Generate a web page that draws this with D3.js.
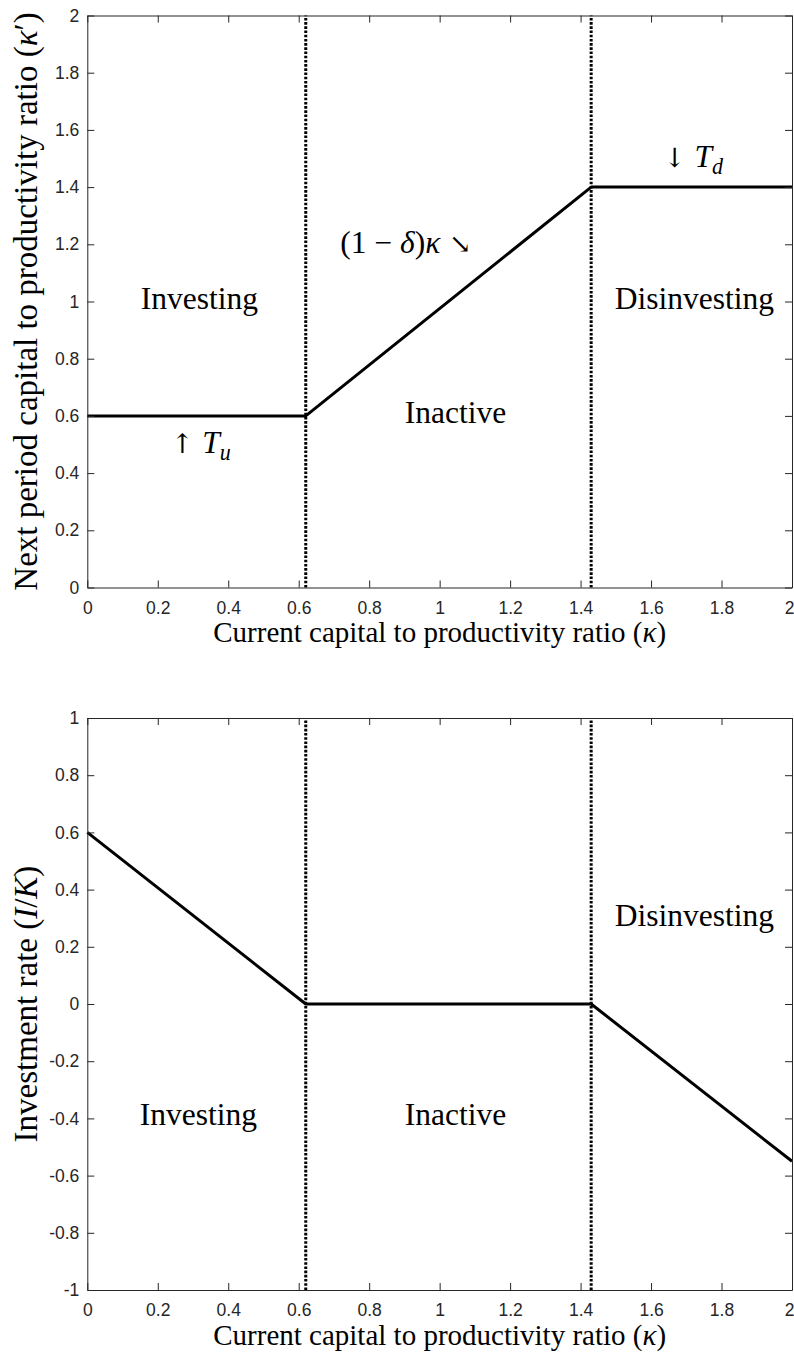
<!DOCTYPE html>
<html>
<head>
<meta charset="utf-8">
<script src="https://cdn.jsdelivr.net/npm/d3@7"></script>
<style>
body { margin: 0; background: #fff; }
svg { display: block; }
.tick text { font-family: "Liberation Sans", Arial, sans-serif; font-size: 17.5px; fill: #262626; }
.lbl { font-family: "Liberation Serif", "Times New Roman", serif; fill: #000; }
.arr { font-family: "DejaVu Serif", serif; }
</style>
</head>
<body>
<svg id="chart" width="794" height="1354"></svg>
<script>

// data
var kappa = [0, 0.62, 1.43, 2];
var nextKappa = [0.6, 0.6, 1.4, 1.4];
var investRate = [0.6, 0, 0, -0.55];
var thresholds = [0.62, 1.43];

var xTicks = [0, 0.2, 0.4, 0.6, 0.8, 1, 1.2, 1.4, 1.6, 1.8, 2];
var yTicksTop = [0, 0.2, 0.4, 0.6, 0.8, 1, 1.2, 1.4, 1.6, 1.8, 2];
var yTicksBottom = [-1, -0.8, -0.6, -0.4, -0.2, 0, 0.2, 0.4, 0.6, 0.8, 1];

var svg = d3.select("#chart")

var x = d3.scaleLinear().domain([0, 2]).range([87.3, 792])

var fmt = function(d) { return String(Math.round(d * 10) / 10) }

// text with italic / subscript pieces
var addText = function(g, px, py, parts, size)
{
    var t = g.append("text")
        .classed("lbl", true)
        .attr("x", px)
        .attr("y", py)
        .attr("text-anchor", "middle")
        .attr("font-size", size)
    parts.forEach(function(p) {
        var s = t.append("tspan").text(p.t)
        if (p.i) s.attr("font-style", "italic")
        if (p.arr) s.classed("arr", true).attr("font-size", size * 0.85)
        if (p.sub) s.attr("font-size", size * 0.7).attr("dy", size * 0.22)
    })
    return t
}

var drawPanel = function(top, bottom, yDomain, yTicks, yData, labels)
{
    var y = d3.scaleLinear().domain(yDomain).range([bottom, top])
    var g = svg.append("g")

    // region borders
    g.selectAll("line.thr")
        .data(thresholds)
        .enter()
        .append("line")
        .classed("thr", true)
        .attr("x1", function(d) { return x(d) })
        .attr("x2", function(d) { return x(d) })
        .attr("y1", y(yDomain[0]))
        .attr("y2", y(yDomain[1]))
        .attr("stroke", "#000")
        .attr("stroke-width", 3)
        .attr("stroke-dasharray", "2.6,1.6")

    var line = d3.line()
        .x(function(d) { return x(d[0]) })
        .y(function(d) { return y(d[1]) })

    g.append("path")
        .datum(d3.zip(kappa, yData))
        .attr("d", line)
        .attr("fill", "none")
        .attr("stroke", "#000")
        .attr("stroke-width", 3)
        .attr("stroke-linejoin", "round")

    var axes = g.append("g")
    var xb = axes.append("g")
        .attr("transform", "translate(0," + bottom + ")")
        .call(d3.axisBottom(x).tickValues(xTicks).tickFormat(fmt).tickSizeInner(-7).tickSizeOuter(0).tickPadding(14))
    // keep the last label inside the page
    xb.selectAll(".tick text").filter(function(d) { return d === 2 }).attr("dx", -3)
    axes.append("g")
        .attr("transform", "translate(0," + top + ")")
        .call(d3.axisTop(x).tickValues(xTicks).tickFormat("").tickSizeInner(-7).tickSizeOuter(0))
    axes.append("g")
        .attr("transform", "translate(" + x(0) + ",0)")
        .call(d3.axisLeft(y).tickValues(yTicks).tickFormat(fmt).tickSizeInner(-7).tickSizeOuter(0).tickPadding(8))
    axes.append("g")
        .attr("transform", "translate(" + x(2) + ",0)")
        .call(d3.axisRight(y).tickValues(yTicks).tickFormat("").tickSizeInner(-7).tickSizeOuter(0))
    axes.selectAll("path, line").attr("stroke", "#262626").attr("stroke-width", 1)

    labels.forEach(function(l) {
        addText(g, x(l.x), y(l.y), l.parts, l.size || 31.5)
    })

    return y
}

var yTop = drawPanel(15.5, 587.5, [0, 2], yTicksTop, nextKappa, [
    {x: 0.318, y: 0.974, parts: [{t: "Investing"}]},
    {x: 1.045, y: 0.576, parts: [{t: "Inactive"}]},
    {x: 1.723, y: 0.974, parts: [{t: "Disinvesting"}]},
    {x: 1.72, y: 1.47, parts: [{t: "\u2193 ", arr: true}, {t: "T", i: true}, {t: "d", i: true, sub: true}]},
    {x: 0.904, y: 1.17, parts: [{t: "(1 \u2212 "}, {t: "\u03b4", i: true}, {t: ")"}, {t: "\u03ba", i: true}, {t: " \u2198", arr: true}]},
    {x: 0.323, y: 0.47, parts: [{t: "\u2191 ", arr: true}, {t: "T", i: true}, {t: "u", i: true, sub: true}]}
])

var yBottom = drawPanel(718, 1290, [-1, 1], yTicksBottom, investRate, [
    {x: 0.315, y: -0.423, parts: [{t: "Investing"}]},
    {x: 1.045, y: -0.423, parts: [{t: "Inactive"}]},
    {x: 1.723, y: 0.273, parts: [{t: "Disinvesting"}]}
])

// axis titles
var xTitle = function(py)
{
    addText(svg, (x(0) + x(2)) / 2, py, [
        {t: "Current capital to productivity ratio ("}, {t: "\u03ba", i: true}, {t: ")"}
    ], 29)
}
xTitle(642)
xTitle(1344.5)

var yTitle = function(cy, parts)
{
    addText(svg, 0, 0, parts, 33)
        .attr("transform", "translate(37," + cy + ") rotate(-90)")
}
yTitle(301.5, [{t: "Next period capital to productivity ratio ("}, {t: "\u03ba", i: true}, {t: "\u2032)"}])
yTitle(1004, [{t: "Investment rate ("}, {t: "I", i: true}, {t: "/"}, {t: "K", i: true}, {t: ")"}])

</script>
</body>
</html>
